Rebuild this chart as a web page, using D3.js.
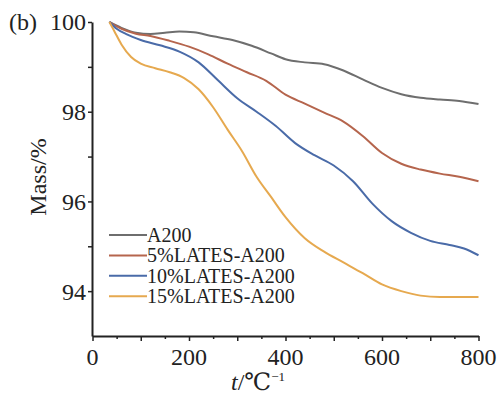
<!DOCTYPE html>
<html>
<head>
<meta charset="utf-8">
<script src="https://cdn.jsdelivr.net/npm/d3@7/dist/d3.min.js"></script>
<style>
  html, body { margin: 0; padding: 0; background: #fff; }
  svg { display: block; }
</style>
</head>
<body>
<svg id="chart" width="499" height="394"></svg>
<script>
// ---- data ----
const seriesNames = ["A200", "5%LATES-A200", "10%LATES-A200", "15%LATES-A200"];
const seriesColors = ["#6e6e6e", "#b5654d", "#4a6ba8", "#e6a94f"];

const tA200 = [35, 60, 90, 120, 150, 180, 210, 250, 290, 330, 370, 400, 440, 480, 520, 560, 600, 640, 680, 720, 760, 800];
const mA200 = [100, 99.87, 99.76, 99.73, 99.76, 99.79, 99.77, 99.68, 99.6, 99.47, 99.3, 99.17, 99.1, 99.06, 98.92, 98.72, 98.53, 98.39, 98.31, 98.27, 98.24, 98.17];

const t5 = [35, 60, 90, 120, 160, 200, 240, 280, 320, 360, 400, 440, 480, 520, 560, 600, 640, 680, 720, 760, 800];
const m5 = [100, 99.85, 99.74, 99.69, 99.58, 99.45, 99.28, 99.07, 98.88, 98.69, 98.38, 98.18, 97.98, 97.78, 97.46, 97.08, 96.84, 96.71, 96.62, 96.55, 96.45];

const t10 = [35, 50, 70, 100, 140, 180, 220, 260, 300, 340, 380, 420, 460, 500, 540, 580, 620, 660, 700, 740, 770, 800];
const m10 = [100, 99.85, 99.73, 99.6, 99.48, 99.34, 99.1, 98.7, 98.3, 98.0, 97.68, 97.3, 97.03, 96.8, 96.45, 95.95, 95.56, 95.3, 95.12, 95.03, 94.95, 94.8];

const t15 = [35, 45, 60, 80, 100, 130, 160, 190, 220, 250, 280, 310, 340, 370, 400, 440, 480, 520, 560, 600, 640, 680, 720, 760, 800];
const m15 = [100, 99.8, 99.5, 99.22, 99.07, 98.97, 98.88, 98.75, 98.5, 98.1, 97.6, 97.12, 96.55, 96.1, 95.65, 95.18, 94.88, 94.64, 94.4, 94.15, 94.0, 93.9, 93.87, 93.87, 93.87];

const xTickLabels = [0, 200, 400, 600, 800];
const yTickLabels = [94, 96, 98, 100];

// ---- layout ----
const FONT = "'Liberation Serif', 'Times New Roman', Tinos, 'DejaVu Serif', serif";
const svg = d3.select("#chart").attr("font-family", FONT);
const x = d3.scaleLinear().domain([0, 800]).range([92.5, 478.5]);
const y = d3.scaleLinear().domain([93, 100]).range([336, 22]);

const series = [
  { name: seriesNames[0], color: seriesColors[0], t: tA200, m: mA200 },
  { name: seriesNames[1], color: seriesColors[1], t: t5, m: m5 },
  { name: seriesNames[2], color: seriesColors[2], t: t10, m: m10 },
  { name: seriesNames[3], color: seriesColors[3], t: t15, m: m15 }
];

// curves
const line = d3.line()
  .x(d => x(d[0]))
  .y(d => y(d[1]))
  .curve(d3.curveMonotoneX);

svg.append("g").selectAll("path")
  .data(series)
  .join("path")
  .attr("d", s => line(s.t.map((v, i) => [v, s.m[i]])))
  .attr("fill", "none")
  .attr("stroke", s => s.color)
  .attr("stroke-width", 2);

// x axis
const xAxisG = svg.append("g").attr("transform", `translate(0,${y(93)})`);
xAxisG.call(d3.axisBottom(x).tickValues(d3.range(0, 801, 50)).tickSize(0).tickFormat(""));
xAxisG.attr("font-family", FONT);
xAxisG.select(".domain").attr("stroke", "#222").attr("stroke-width", 2);
xAxisG.selectAll(".tick line")
  .attr("y2", d => d % 100 === 0 ? 5 : 3)
  .attr("stroke", "#222").attr("stroke-width", 1.5);
xAxisG.selectAll(".tick text").remove();
xAxisG.append("g").selectAll("text")
  .data(xTickLabels)
  .join("text")
  .attr("x", d => x(d))
  .attr("y", 29)
  .attr("text-anchor", "middle")
  .attr("font-family", FONT)
  .attr("font-size", 24)
  .attr("fill", "#222")
  .text(d => d);

// y axis
const yAxisG = svg.append("g").attr("transform", `translate(${x(0) - 0.5},0)`);
yAxisG.call(d3.axisLeft(y).tickValues([93, 94, 95, 96, 97, 98, 99, 100]).tickSize(0).tickFormat(""));
yAxisG.attr("font-family", FONT);
yAxisG.select(".domain").attr("stroke", "#222").attr("stroke-width", 2);
yAxisG.selectAll(".tick line")
  .attr("x2", d => d === 93 ? 0 : -4)
  .attr("stroke", "#222").attr("stroke-width", 1.5);
yAxisG.append("g").selectAll("text")
  .data(yTickLabels)
  .join("text")
  .attr("x", -6)
  .attr("y", d => y(d))
  .attr("dy", "0.35em")
  .attr("text-anchor", "end")
  .attr("font-family", FONT)
  .attr("font-size", 24)
  .attr("fill", "#222")
  .text(d => d);

// panel label
svg.append("text").attr("x", 9).attr("y", 30).attr("font-size", 24)
  .attr("font-family", FONT).attr("fill", "#222").text("(b)");

// axis titles
svg.append("text")
  .attr("transform", "translate(46,177) rotate(-90)")
  .attr("text-anchor", "middle")
  .attr("font-family", FONT)
  .attr("font-size", 24)
  .attr("fill", "#222")
  .text("Mass/%");

const xt = svg.append("text")
  .attr("x", 231).attr("y", 390)
  .attr("font-family", FONT)
  .attr("fill", "#222")
  .attr("font-size", 24);
xt.append("tspan").attr("font-style", "italic").text("t");
xt.append("tspan").text("/℃");
xt.append("tspan").attr("font-size", 13).attr("dy", -9).text("−1");

// legend
const lg = svg.append("g").selectAll("g")
  .data(series)
  .join("g")
  .attr("transform", (d, i) => `translate(0,${235 + i * 20.4})`);
lg.append("line")
  .attr("x1", 109).attr("x2", 147)
  .attr("stroke", d => d.color).attr("stroke-width", 2);
lg.append("text")
  .attr("x", 147).attr("y", 0).attr("dy", "0.34em")
  .attr("font-family", FONT)
  .attr("font-size", 20)
  .attr("fill", "#222")
  .text(d => d.name);
</script>
</body>
</html>
